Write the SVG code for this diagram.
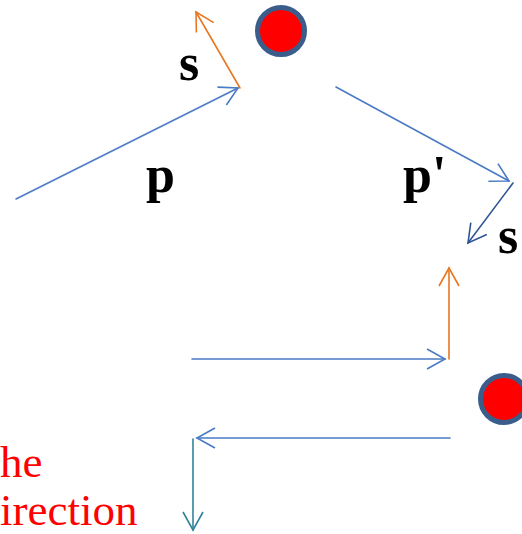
<svg xmlns="http://www.w3.org/2000/svg" width="522" height="534" viewBox="0 0 522 534">
<style>
.ln{fill:none;stroke-width:1.6;stroke-linecap:round}
.blue{stroke:#4A7BC4}
.orange{stroke:#E87722}
.dark{stroke:#2F5597}
.teal{stroke:#31849B}
.lbl{font-family:"Liberation Serif","Times New Roman",serif;font-weight:bold;font-size:52px;fill:#000}
.red{font-family:"Liberation Serif","Times New Roman",serif;font-size:45px;fill:#FF0000}
.ball{fill:#FF0000;stroke:#3A5D8C;stroke-width:5}
</style>
<defs>
<marker id="mb" markerUnits="userSpaceOnUse" markerWidth="24" markerHeight="24" viewBox="-20 -12 24 24" refX="0" refY="0" orient="auto"><path d="M-18,-10 L0,0 L-18,10" fill="none" stroke="#4A7BC4" stroke-width="1.6"/></marker>
<marker id="mo" markerUnits="userSpaceOnUse" markerWidth="24" markerHeight="24" viewBox="-20 -12 24 24" refX="0" refY="0" orient="auto"><path d="M-18,-10 L0,0 L-18,10" fill="none" stroke="#E87722" stroke-width="1.6"/></marker>
<marker id="md" markerUnits="userSpaceOnUse" markerWidth="24" markerHeight="24" viewBox="-20 -12 24 24" refX="0" refY="0" orient="auto"><path d="M-18,-10 L0,0 L-18,10" fill="none" stroke="#2F5597" stroke-width="1.6"/></marker>
<marker id="mt" markerUnits="userSpaceOnUse" markerWidth="24" markerHeight="24" viewBox="-20 -12 24 24" refX="0" refY="0" orient="auto"><path d="M-18,-10 L0,0 L-18,10" fill="none" stroke="#31849B" stroke-width="1.6"/></marker>
</defs>
<g id="ball-top"><circle class="ball" cx="281" cy="31" r="23.5"/></g>
<g id="ball-bottom"><circle class="ball" cx="504" cy="399" r="23.5"/></g>
<g id="connectors">
<line class="ln blue" x1="16" y1="199" x2="238" y2="88" marker-end="url(#mb)"/>
<line class="ln orange" x1="240" y1="88" x2="196" y2="12" marker-end="url(#mo)"/>
<line class="ln blue" x1="336" y1="87" x2="509" y2="181" marker-end="url(#mb)"/>
<line class="ln dark" x1="513" y1="183" x2="468" y2="243" marker-end="url(#md)"/>
<line class="ln blue" x1="192" y1="359" x2="445" y2="359" marker-end="url(#mb)"/>
<line class="ln orange" x1="449" y1="359" x2="449" y2="268" marker-end="url(#mo)"/>
<line class="ln blue" x1="450" y1="438" x2="197" y2="438" marker-end="url(#mb)"/>
<line class="ln teal" x1="193" y1="439" x2="193" y2="530" marker-end="url(#mt)"/>
</g>
<g id="labels">
<text class="lbl" x="179" y="80">s</text>
<text class="lbl" x="146" y="192">p</text>
<text class="lbl" x="403" y="192">p'</text>
<text class="lbl" x="498" y="253">s</text>
<text class="red" x="0" y="477">he</text>
<text class="red" x="0" y="525">irection</text>
</g>
</svg>
